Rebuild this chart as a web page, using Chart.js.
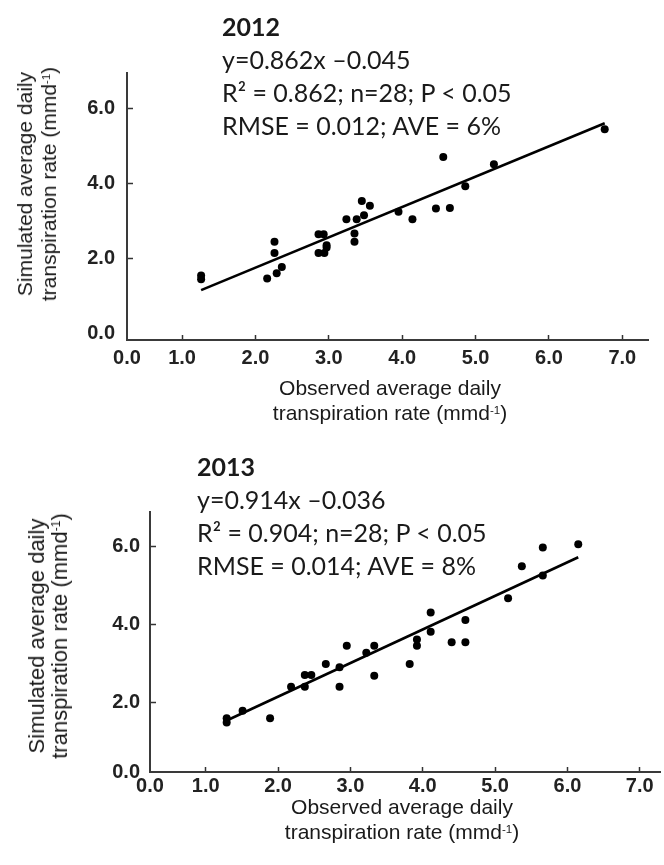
<!DOCTYPE html>
<html>
<head>
<meta charset="utf-8">
<script src="https://cdn.jsdelivr.net/npm/chart.js@4"></script>
<style>
  html, body { margin:0; padding:0; background:#fff; }
  body { width:664px; height:865px; position:relative; overflow:hidden; }
  .cv { position:absolute; left:0; }
  .ann { position:absolute; font-family: Lato, "Open Sans", sans-serif; font-size:25px; line-height:33px; color:#1a1a1a; white-space:nowrap; }
  .ann b { font-weight:700; }
  .xt { position:absolute; font-family:"Liberation Sans", Arial, sans-serif; font-size:21px; line-height:25px; color:#1a1a1a; text-align:center; white-space:nowrap; transform:translateX(-50%); }
  .yt { position:absolute; font-family:"Liberation Sans", Arial, sans-serif; font-size:21px; line-height:24px; color:#1a1a1a; text-align:center; white-space:nowrap; transform:translate(-50%,-50%) rotate(-90deg); }
  sup { font-size:55%; vertical-align:0.55em; line-height:0; }
</style>
</head>
<body>
<canvas id="c2012" class="cv" width="664" height="430" style="top:0px"></canvas>
<canvas id="c2013" class="cv" width="664" height="435" style="top:430px"></canvas>

<div class="ann" style="left:222px; top:10px"><b>2012</b><br>y=0.862x –0.045<br>R² = 0.862; n=28; P &lt; 0.05<br>RMSE = 0.012; AVE = 6%</div>
<div class="ann" style="left:197px; top:450px"><b>2013</b><br>y=0.914x –0.036<br>R² = 0.904; n=28; P &lt; 0.05<br>RMSE = 0.014; AVE = 8%</div>

<div class="xt" style="left:390px; top:375px">Observed average daily<br>transpiration rate (mmd<sup>-1</sup>)</div>
<div class="xt" style="left:402px; top:794px">Observed average daily<br>transpiration rate (mmd<sup>-1</sup>)</div>

<div class="yt" style="left:37px; top:184px">Simulated average daily<br>transpiration rate (mmd<sup>-1</sup>)</div>
<div class="yt" style="left:48px; top:636px; font-size:22px; line-height:23px">Simulated average daily<br>transpiration rate (mmd<sup>-1</sup>)</div>

<script>
// ---- data ----
const obs2012 = [1.26, 1.26, 2.16, 2.26, 2.26, 2.29, 2.36, 2.86, 2.93, 2.97, 2.86, 2.94, 2.97, 3.24, 3.35, 3.35, 3.38, 3.45, 3.48, 3.56, 3.95, 4.14, 4.46, 4.65, 4.56, 4.86, 5.25, 6.76];
const sim2012 = [1.45, 1.55, 1.47, 2.45, 2.15, 1.61, 1.78, 2.65, 2.65, 2.36, 2.15, 2.15, 2.30, 3.05, 2.67, 2.45, 3.05, 3.54, 3.16, 3.41, 3.25, 3.05, 3.34, 3.35, 4.71, 3.93, 4.52, 5.45];
const fitX2012 = [1.26, 6.76];
const fitY2012 = [1.16, 5.61];

const obs2013 = [1.29, 1.29, 1.51, 1.89, 2.18, 2.37, 2.37, 2.46, 2.66, 2.85, 2.85, 2.95, 3.22, 3.33, 3.33, 3.82, 3.92, 3.92, 4.11, 4.11, 4.40, 4.59, 4.59, 5.18, 5.37, 5.66, 5.66, 6.15];
const sim2013 = [1.59, 1.48, 1.78, 1.59, 2.40, 2.70, 2.40, 2.70, 2.98, 2.90, 2.40, 3.45, 3.27, 3.45, 2.68, 2.98, 3.61, 3.45, 4.30, 3.81, 3.54, 3.54, 4.11, 4.67, 5.49, 5.97, 5.25, 6.05];
const fitX2013 = [1.29, 6.15];
const fitY2013 = [1.53, 5.72];

const xTickValues = [1, 2, 3, 4, 5, 6, 7];
const yTickValues = [2, 4, 6];
const originLabel = '0.0';

function pts(xs, ys) { return xs.map((x, i) => ({x: x, y: ys[i]})); }

function makeChart(id, cfg) {
  const tickFont = {family: '"Liberation Sans", Arial, sans-serif', size: 20, weight: 'bold'};
  const axisColor = '#3a3a3a';
  const hideFirst = (ctx) => (ctx.index === 0 ? 'rgba(0,0,0,0)' : '#333');
  return new Chart(document.getElementById(id), {
    type: 'scatter',
    data: {
      datasets: [
        { data: pts(cfg.obs, cfg.sim), pointRadius: 4, pointHoverRadius: 4,
          backgroundColor: '#000', borderColor: '#000', borderWidth: 0 },
        { data: pts(cfg.fitX, cfg.fitY), showLine: true, pointRadius: 0,
          borderColor: '#000', borderWidth: 2.6, fill: false }
      ]
    },
    options: {
      responsive: false,
      animation: false,
      devicePixelRatio: 1,
      layout: { padding: cfg.padding },
      plugins: { legend: { display: false }, tooltip: { enabled: false } },
      scales: {
        x: {
          type: 'linear', min: cfg.xMin, max: cfg.xMax,
          afterFit: (s) => { s.height = cfg.xHeight; },
          afterBuildTicks: (s) => { s.ticks = [{value: cfg.xMin}].concat(xTickValues.map(v => ({value: v}))); },
          border: { display: true, color: axisColor, width: 2 },
          grid: { drawOnChartArea: false, drawTicks: true, tickLength: -5, tickWidth: 1.5, tickColor: hideFirst },
          ticks: { font: tickFont, color: '#222', padding: cfg.xPad, maxRotation: 0, autoSkip: false,
                   callback: (v) => (v === cfg.xMin ? originLabel : Number(v).toFixed(1)) }
        },
        y: {
          type: 'linear', min: cfg.yMin, max: cfg.yMax,
          afterFit: (s) => { s.width = cfg.yWidth; },
          afterBuildTicks: (s) => { s.ticks = [{value: cfg.yFirst}].concat(yTickValues.map(v => ({value: v}))); },
          border: { display: true, color: axisColor, width: 2 },
          grid: { drawOnChartArea: false, drawTicks: true, tickLength: -6, tickWidth: 1.5, tickColor: hideFirst },
          ticks: { font: tickFont, color: '#222', padding: cfg.yPad, autoSkip: false,
                   callback: (v) => (v === cfg.yFirst ? originLabel : Number(v).toFixed(1)) }
        }
      }
    }
  });
}

makeChart('c2012', {
  obs: obs2012, sim: sim2012, fitX: fitX2012, fitY: fitY2012,
  xMin: 0.25, xMax: 7.35, yMin: -0.17, yMax: 6.95, yFirst: 0,
  padding: {top: 73, right: 16, left: 0, bottom: 0},
  xHeight: 90, yWidth: 127, xPad: 11, yPad: 18
});

makeChart('c2013', {
  obs: obs2013, sim: sim2013, fitX: fitX2013, fitY: fitY2013,
  xMin: 0.23, xMax: 7.28, yMin: 0.21, yMax: 6.88, yFirst: 0.21,
  padding: {top: 82, right: 4, left: 0, bottom: 0},
  xHeight: 93, yWidth: 150, xPad: 7, yPad: 16
});
</script>
</body>
</html>
